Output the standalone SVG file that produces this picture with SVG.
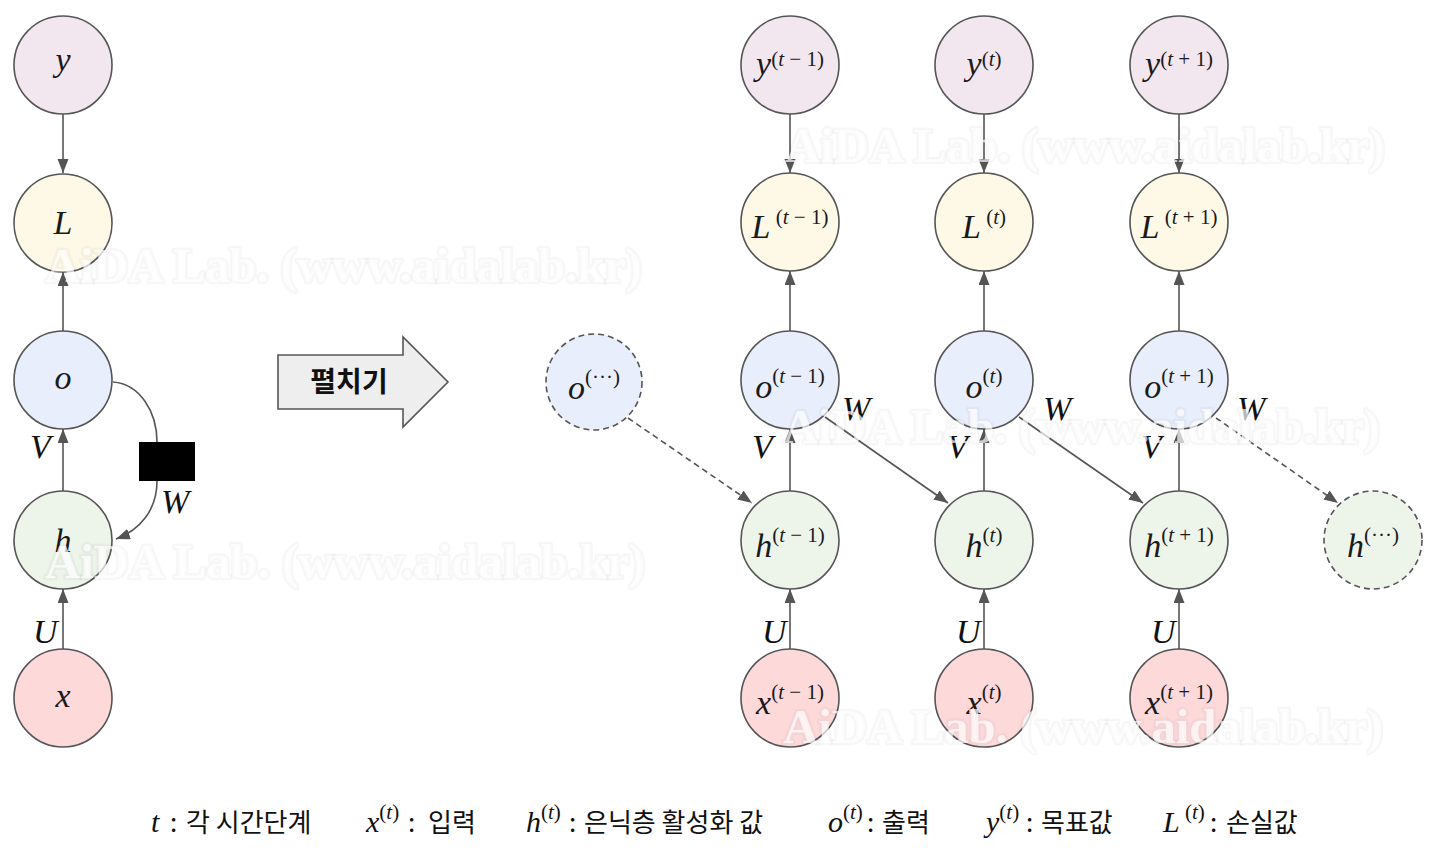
<svg xmlns="http://www.w3.org/2000/svg" width="1438" height="853" viewBox="0 0 1438 853">
<defs>
<style>
.n{stroke:#555;stroke-width:1.6}
.dn{stroke-dasharray:6 4}
.fy{fill:#f3e7ef}.fl{fill:#fdf9e6}.fo{fill:#e8eefb}.fh{fill:#edf5eb}.fx{fill:#fdd9da}
.c{stroke:#555;stroke-width:1.6;fill:none}
.d{stroke-dasharray:6 4}
.m{font-family:"Liberation Serif","DejaVu Serif",serif;font-style:italic;font-size:34px;fill:#1a1a1a}
.s{font-size:21px}
.u{font-style:normal}
.lb{font-family:"Liberation Serif","DejaVu Serif",serif;font-style:italic;font-size:34px;fill:#111}
.lg{font-family:"Liberation Serif","DejaVu Serif",serif;font-style:italic;font-size:30px;fill:#111}
.ko{font-family:"Noto Sans CJK KR","Noto Sans",sans-serif;font-size:26px;fill:#111}
.wm{font-family:"Liberation Serif","DejaVu Serif",serif;font-weight:bold;font-size:48px;fill:#fff;fill-opacity:.7;stroke:#000;stroke-opacity:.03;stroke-width:5;stroke-linejoin:round;paint-order:stroke fill}
</style>
<marker id="a" markerUnits="userSpaceOnUse" markerWidth="15" markerHeight="12" refX="14" refY="5.5" orient="auto">
<path d="M0,0 L14,5.5 L0,11 z" fill="#555"/>
</marker>
</defs>
<rect width="1438" height="853" fill="#fff"/>

<g id="connectors">
<path class="c" d="M63,114 L63,173" marker-end="url(#a)"/>
<path class="c" d="M63,331 L63,272" marker-end="url(#a)"/>
<path class="c" d="M63,491 L63,429" marker-end="url(#a)"/>
<path class="c" d="M63,649 L63,589" marker-end="url(#a)"/>
<path class="c" d="M113,382 C140,384 157,412 157,442"/>
<path class="c" d="M157,481 C157,510 140,530 116,539" marker-end="url(#a)"/>
<path class="c" d="M790,114 L790,173" marker-end="url(#a)"/>
<path class="c" d="M790,331 L790,271" marker-end="url(#a)"/>
<path class="c" d="M790,491 L790,429" marker-end="url(#a)"/>
<path class="c" d="M790,649 L790,589" marker-end="url(#a)"/>
<path class="c" d="M984,114 L984,173" marker-end="url(#a)"/>
<path class="c" d="M984,331 L984,271" marker-end="url(#a)"/>
<path class="c" d="M984,491 L984,429" marker-end="url(#a)"/>
<path class="c" d="M984,649 L984,589" marker-end="url(#a)"/>
<path class="c" d="M1179,114 L1179,173" marker-end="url(#a)"/>
<path class="c" d="M1179,331 L1179,271" marker-end="url(#a)"/>
<path class="c" d="M1179,491 L1179,429" marker-end="url(#a)"/>
<path class="c" d="M1179,649 L1179,589" marker-end="url(#a)"/>
<path class="c d" d="M628,418 L752,503" marker-end="url(#a)"/>
<path class="c" d="M825,417 L948,503" marker-end="url(#a)"/>
<path class="c" d="M1019,417 L1143,503" marker-end="url(#a)"/>
<path class="c d" d="M1216,418 L1338,503" marker-end="url(#a)"/>
</g>

<g id="left-W-box"><rect x="139" y="442" width="56" height="39" fill="#000"/></g>

<g id="edge-labels">
<text class="lb" x="30" y="458">V</text>
<text class="lb" x="161" y="513">W</text>
<text class="lb" x="33" y="643">U</text>
<text class="lb" x="842" y="420">W</text>
<text class="lb" x="1043" y="420">W</text>
<text class="lb" x="1237" y="420">W</text>
<text class="lb" x="752" y="458">V</text>
<text class="lb" x="947" y="458">V</text>
<text class="lb" x="1141" y="458">V</text>
<text class="lb" x="762" y="643">U</text>
<text class="lb" x="956" y="643">U</text>
<text class="lb" x="1151" y="643">U</text>
</g>

<g id="node-y"><circle class="n fy" cx="63" cy="65" r="49"/><text class="m" x="63" y="71" text-anchor="middle">y</text></g>
<g id="node-L"><circle class="n fl" cx="63" cy="223" r="49"/><text class="m" x="63" y="234" text-anchor="middle">L</text></g>
<g id="node-o"><circle class="n fo" cx="63" cy="380" r="49"/><text class="m" x="63" y="389" text-anchor="middle">o</text></g>
<g id="node-h"><circle class="n fh" cx="63" cy="540" r="49"/><text class="m" x="63" y="552" text-anchor="middle">h</text></g>
<g id="node-x"><circle class="n fx" cx="63" cy="698" r="49"/><text class="m" x="63" y="707" text-anchor="middle">x</text></g>

<g id="unfold">
<polygon points="278,355 403,355 403,337 448,382 403,427 403,409 278,409" fill="#eeeeee" stroke="#555" stroke-width="1.6"/>
<text x="349" y="392" text-anchor="middle" font-family="'Noto Sans CJK KR','Noto Sans',sans-serif" font-weight="bold" font-size="28" fill="#111">펼치기</text>
</g>

<g id="node-o-dots"><circle class="n fo dn" cx="594" cy="382" r="48"/><text class="m" x="594" y="399" text-anchor="middle">o<tspan class="s u" dy="-15">(···)</tspan></text></g>
<g id="node-h-dots"><circle class="n fh dn" cx="1373" cy="540" r="49"/><text class="m" x="1373" y="557" text-anchor="middle">h<tspan class="s u" dy="-15">(···)</tspan></text></g>

<g id="node-y-tm1"><circle class="n fy" cx="790" cy="65" r="49"/><text class="m" x="790" y="75" text-anchor="middle">y<tspan class="s" dy="-9"><tspan class="u">(</tspan>t<tspan class="u"> − 1)</tspan></tspan></text></g>
<g id="node-L-tm1"><circle class="n fl" cx="790" cy="222" r="49"/><text class="m" x="790" y="238" text-anchor="middle">L<tspan class="s" dy="-14"><tspan class="u"> (</tspan>t<tspan class="u"> − 1)</tspan></tspan></text></g>
<g id="node-o-tm1"><circle class="n fo" cx="790" cy="380" r="49"/><text class="m" x="790" y="398" text-anchor="middle">o<tspan class="s" dy="-15"><tspan class="u">(</tspan>t<tspan class="u"> − 1)</tspan></tspan></text></g>
<g id="node-h-tm1"><circle class="n fh" cx="790" cy="540" r="49"/><text class="m" x="790" y="557" text-anchor="middle">h<tspan class="s" dy="-15"><tspan class="u">(</tspan>t<tspan class="u"> − 1)</tspan></tspan></text></g>
<g id="node-x-tm1"><circle class="n fx" cx="790" cy="698" r="49"/><text class="m" x="790" y="714" text-anchor="middle">x<tspan class="s" dy="-15"><tspan class="u">(</tspan>t<tspan class="u"> − 1)</tspan></tspan></text></g>

<g id="node-y-t"><circle class="n fy" cx="984" cy="65" r="49"/><text class="m" x="984" y="75" text-anchor="middle">y<tspan class="s" dy="-9"><tspan class="u">(</tspan>t<tspan class="u">)</tspan></tspan></text></g>
<g id="node-L-t"><circle class="n fl" cx="984" cy="222" r="49"/><text class="m" x="984" y="238" text-anchor="middle">L<tspan class="s" dy="-14"><tspan class="u"> (</tspan>t<tspan class="u">)</tspan></tspan></text></g>
<g id="node-o-t"><circle class="n fo" cx="984" cy="380" r="49"/><text class="m" x="984" y="398" text-anchor="middle">o<tspan class="s" dy="-15"><tspan class="u">(</tspan>t<tspan class="u">)</tspan></tspan></text></g>
<g id="node-h-t"><circle class="n fh" cx="984" cy="540" r="49"/><text class="m" x="984" y="557" text-anchor="middle">h<tspan class="s" dy="-15"><tspan class="u">(</tspan>t<tspan class="u">)</tspan></tspan></text></g>
<g id="node-x-t"><circle class="n fx" cx="984" cy="698" r="49"/><text class="m" x="984" y="714" text-anchor="middle">x<tspan class="s" dy="-15"><tspan class="u">(</tspan>t<tspan class="u">)</tspan></tspan></text></g>

<g id="node-y-tp1"><circle class="n fy" cx="1179" cy="65" r="49"/><text class="m" x="1179" y="75" text-anchor="middle">y<tspan class="s" dy="-9"><tspan class="u">(</tspan>t<tspan class="u"> + 1)</tspan></tspan></text></g>
<g id="node-L-tp1"><circle class="n fl" cx="1179" cy="222" r="49"/><text class="m" x="1179" y="238" text-anchor="middle">L<tspan class="s" dy="-14"><tspan class="u"> (</tspan>t<tspan class="u"> + 1)</tspan></tspan></text></g>
<g id="node-o-tp1"><circle class="n fo" cx="1179" cy="380" r="49"/><text class="m" x="1179" y="398" text-anchor="middle">o<tspan class="s" dy="-15"><tspan class="u">(</tspan>t<tspan class="u"> + 1)</tspan></tspan></text></g>
<g id="node-h-tp1"><circle class="n fh" cx="1179" cy="540" r="49"/><text class="m" x="1179" y="557" text-anchor="middle">h<tspan class="s" dy="-15"><tspan class="u">(</tspan>t<tspan class="u"> + 1)</tspan></tspan></text></g>
<g id="node-x-tp1"><circle class="n fx" cx="1179" cy="698" r="49"/><text class="m" x="1179" y="714" text-anchor="middle">x<tspan class="s" dy="-15"><tspan class="u">(</tspan>t<tspan class="u"> + 1)</tspan></tspan></text></g>

<g id="legend">
<text class="lg" x="151" y="832">t</text><text class="ko" x="170" y="832">:<tspan x="186">각 시간단계</tspan></text>
<text class="lg" x="366" y="832">x<tspan class="s" dy="-13"><tspan class="u">(</tspan>t<tspan class="u">)</tspan></tspan></text><text class="ko" x="408" y="832">:<tspan x="428">입력</tspan></text>
<text class="lg" x="526" y="832">h<tspan class="s" dy="-13"><tspan class="u">(</tspan>t<tspan class="u">)</tspan></tspan></text><text class="ko" x="569" y="832">:<tspan x="584">은닉층 활성화 값</tspan></text>
<text class="lg" x="828" y="832">o<tspan class="s" dy="-13"><tspan class="u">(</tspan>t<tspan class="u">)</tspan></tspan></text><text class="ko" x="867" y="832">:<tspan x="882">출력</tspan></text>
<text class="lg" x="986" y="832">y<tspan class="s" dy="-13"><tspan class="u">(</tspan>t<tspan class="u">)</tspan></tspan></text><text class="ko" x="1026" y="832">:<tspan x="1041">목표값</tspan></text>
<text class="lg" x="1163" y="832">L<tspan class="s" dy="-13"><tspan class="u"> (</tspan>t<tspan class="u">)</tspan></tspan></text><text class="ko" x="1210" y="832">:<tspan x="1226">손실값</tspan></text>
</g>

<g id="watermark">
<text class="wm" x="45" y="282" textLength="597" lengthAdjust="spacingAndGlyphs">AiDA Lab. (www.aidalab.kr)</text>
<text class="wm" x="45" y="578" textLength="600" lengthAdjust="spacingAndGlyphs">AiDA Lab. (www.aidalab.kr)</text>
<text class="wm" x="785" y="162" textLength="600" lengthAdjust="spacingAndGlyphs">AiDA Lab. (www.aidalab.kr)</text>
<text class="wm" x="783" y="443" textLength="597" lengthAdjust="spacingAndGlyphs">AiDA Lab. (www.aidalab.kr)</text>
<text class="wm" x="783" y="743" textLength="600" lengthAdjust="spacingAndGlyphs">AiDA Lab. (www.aidalab.kr)</text>
</g>
</svg>
